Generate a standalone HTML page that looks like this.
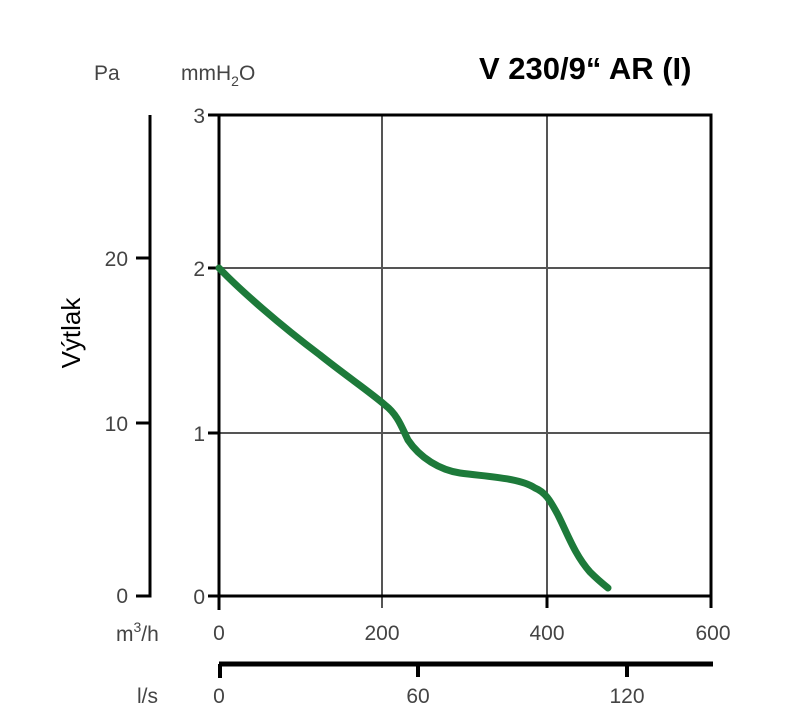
<!DOCTYPE html>
<html><head><style>body{margin:0;background:#fff}svg{display:block}</style></head><body>
<svg width="805" height="717" xmlns="http://www.w3.org/2000/svg" font-family="Liberation Sans, sans-serif">
<rect width="805" height="717" fill="#fff"/>
<text x="479" y="79" font-size="31" font-weight="bold" fill="#000">V 230/9“ AR (I)</text>
<text x="94" y="80" font-size="21" fill="#444">Pa</text>
<text x="181" y="80" font-size="21" fill="#444">mmH<tspan font-size="14" dy="6">2</tspan><tspan dy="-6">O</tspan></text>
<text transform="translate(80,333) rotate(-90)" font-size="26" text-anchor="middle" fill="#000">Výtlak</text>
<path d="M150,115 V596 H136" stroke="#000" stroke-width="3" fill="none"/>
<line x1="136" y1="258" x2="150" y2="258" stroke="#000" stroke-width="3"/>
<line x1="136" y1="423" x2="150" y2="423" stroke="#000" stroke-width="3"/>
<g font-size="21" fill="#444" text-anchor="end">
<text x="128" y="266">20</text><text x="128" y="431">10</text><text x="128" y="603">0</text>
<text x="205" y="123">3</text><text x="205" y="276">2</text><text x="205" y="441">1</text><text x="205" y="604">0</text>
</g>
<g stroke="#555" stroke-width="2">
<line x1="219" y1="268" x2="711" y2="268"/><line x1="219" y1="433" x2="711" y2="433"/>
<line x1="382" y1="115" x2="382" y2="608"/><line x1="547" y1="115" x2="547" y2="608"/>
</g>
<g stroke="#000" stroke-width="3" fill="none">
<rect x="219" y="115" width="492" height="481"/>
<line x1="208" y1="115" x2="219" y2="115"/><line x1="208" y1="268" x2="219" y2="268"/>
<line x1="208" y1="433" x2="219" y2="433"/><line x1="208" y1="596" x2="219" y2="596"/>
<line x1="219" y1="596" x2="219" y2="610"/><line x1="711" y1="596" x2="711" y2="608"/>
<line x1="547" y1="596" x2="547" y2="608"/>
</g>
<path d="M219,268 C240,290 280,325 320,355 C345,375 370,392 385,405 C398,415 402,428 408,440 C420,458 440,470 460,473 C490,477 520,478 535,488 C545,492 550,500 558,515 C568,535 575,555 590,572 C598,580 603,584 608,588" stroke="#1d7a3a" stroke-width="7" fill="none" stroke-linecap="round"/>
<g font-size="21" fill="#444" text-anchor="middle">
<text x="219" y="640">0</text><text x="382" y="640">200</text><text x="547" y="640">400</text><text x="713" y="640">600</text>
<text x="219" y="703">0</text><text x="418" y="703">60</text><text x="627" y="703">120</text>
</g>
<text x="116" y="641" font-size="21" fill="#444">m<tspan font-size="14" dy="-9">3</tspan><tspan dy="9">/h</tspan></text>
<text x="137" y="703" font-size="21" fill="#444">l/s</text>
<line x1="219" y1="664" x2="713" y2="664" stroke="#000" stroke-width="5"/>
<g stroke="#000" stroke-width="4">
<line x1="220" y1="664" x2="220" y2="678"/><line x1="418" y1="664" x2="418" y2="677"/><line x1="627" y1="664" x2="627" y2="677"/>
</g>
</svg>
</body></html>
